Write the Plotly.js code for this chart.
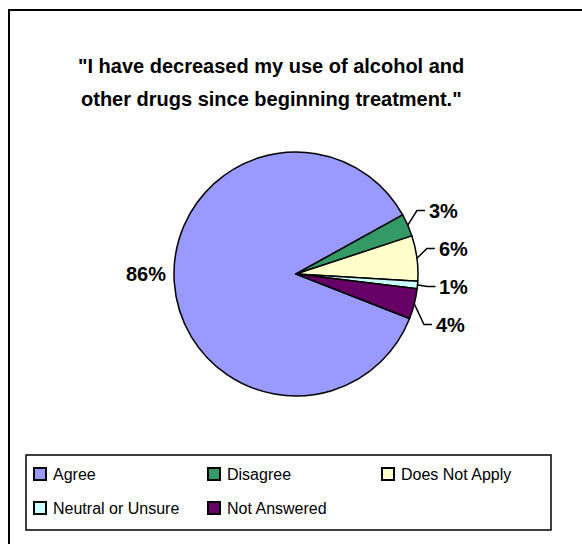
<!DOCTYPE html>
<html>
<head>
<meta charset="utf-8">
<script src="https://cdn.plot.ly/plotly-3.0.1.min.js"></script>
<style>
  html, body { margin: 0; padding: 0; background: #ffffff; }
  #chart { width: 582px; height: 544px; }
</style>
</head>
<body>
<div id="chart"></div>
<script>
// ---- data ----
const categories = ['Agree', 'Disagree', 'Does Not Apply', 'Neutral or Unsure', 'Not Answered'];
const values = [86, 3, 6, 1, 4];
const colors = ['#9999FF', '#339966', '#FFFFCC', '#CCFFFF', '#660066'];
const titleLines = ['"I have decreased my use of alcohol and', 'other drugs since beginning treatment."'];

// ---- layout constants ----
const W = 582, H = 544;
const cx = 296, cy = 274, r = 122;
const rotation = 111.4;
const FONT = '"Liberation Sans", Arial, Helvetica, sans-serif';
const px = x => x / W;
const py = y => 1 - y / H;

const total = values.reduce((a, b) => a + b, 0);

const shapes = [];
const annotations = [];

// outer chart frame (continues past the right/bottom edge)
shapes.push({type: 'rect', xref: 'paper', yref: 'paper',
  x0: px(9), x1: px(W + 20), y0: py(H + 20), y1: py(10),
  line: {color: '#000', width: 2}, fillcolor: 'rgba(0,0,0,0)'});

// ---- title ----
titleLines.forEach((t, k) => {
  annotations.push({xref: 'paper', yref: 'paper', x: px(271), y: py(66 + k * 33),
    xanchor: 'center', yanchor: 'middle', showarrow: false, text: t,
    font: {family: FONT, size: 20, color: '#000', weight: 'bold'}});
});

// ---- data labels computed from slice angles ----
let a = rotation;
const right = [], left = [];
values.forEach((v, i) => {
  const span = v / total * 360;
  const mid = (a + span / 2) * Math.PI / 180;
  a += span;
  const s = Math.sin(mid), c = Math.cos(mid);
  const lab = {i, s, c, px: cx + r * s, py: cy - r * c,
    y: cy - (r + 12) * c, small: v / total < 0.1,
    text: Math.round(v / total * 100) + '%'};
  (s >= 0 ? right : left).push(lab);
});
function spread(list, gap) {
  list.sort((p, q) => p.y - q.y);
  for (let it = 0; it < 300; it++) {
    for (let k = 0; k < list.length - 1; k++) {
      const d = list[k + 1].y - list[k].y;
      if (d < gap) { const m = (gap - d) / 2; list[k].y -= m; list[k + 1].y += m; }
    }
  }
}
spread(right.filter(l => l.small), 38);
[...right, ...left].forEach(l => {
  const dir = l.s >= 0 ? 1 : -1;
  let tx, ty = l.y;
  if (l.small) {
    const ex = cx + (r + 10) * l.s;
    const hx = ex + dir * 8;
    shapes.push({type: 'path', xref: 'paper', yref: 'paper',
      path: `M${px(l.px)},${py(l.py)} L${px(ex)},${py(ty)} L${px(hx)},${py(ty)}`,
      line: {color: '#000', width: 1.5}});
    tx = ex + dir * 10;
  } else {
    tx = l.px + dir * 6;
    ty = l.py - 8;
  }
  annotations.push({xref: 'paper', yref: 'paper', x: px(tx), y: py(ty),
    xanchor: dir > 0 ? 'left' : 'right', yanchor: 'middle', showarrow: false,
    text: l.text, font: {family: FONT, size: 20, color: '#000', weight: 'bold'}});
});

// ---- legend (box, keys, labels) ----
shapes.push({type: 'rect', xref: 'paper', yref: 'paper',
  x0: px(26), x1: px(551), y0: py(530), y1: py(455),
  line: {color: '#000', width: 1.5}, fillcolor: 'rgba(0,0,0,0)'});
categories.forEach((name, i) => {
  const col = i % 3, row = Math.floor(i / 3);
  const sx = 34 + col * 174, sy = 474 + row * 34;
  shapes.push({type: 'rect', xref: 'paper', yref: 'paper',
    x0: px(sx), x1: px(sx + 12), y0: py(sy + 6), y1: py(sy - 6),
    fillcolor: colors[i], line: {color: '#000', width: 2}});
  annotations.push({xref: 'paper', yref: 'paper', x: px(sx + 17), y: py(sy),
    xanchor: 'left', yanchor: 'middle', showarrow: false, text: name,
    font: {family: FONT, size: 16, color: '#000'}});
});

const trace = {
  type: 'pie',
  labels: categories,
  values: values,
  sort: false,
  direction: 'clockwise',
  rotation: rotation,
  marker: {colors: colors, line: {color: '#000', width: 1.5}},
  textinfo: 'none',
  hoverinfo: 'label+percent',
  domain: {x: [px(cx - r), px(cx + r)], y: [py(cy + r), py(cy - r)]},
  showlegend: false
};

const layout = {
  width: W, height: H,
  margin: {l: 0, r: 0, t: 0, b: 0},
  paper_bgcolor: '#ffffff',
  showlegend: false,
  shapes: shapes,
  annotations: annotations
};

Plotly.newPlot('chart', [trace], layout, {displayModeBar: false, staticPlot: true});
</script>
</body>
</html>
